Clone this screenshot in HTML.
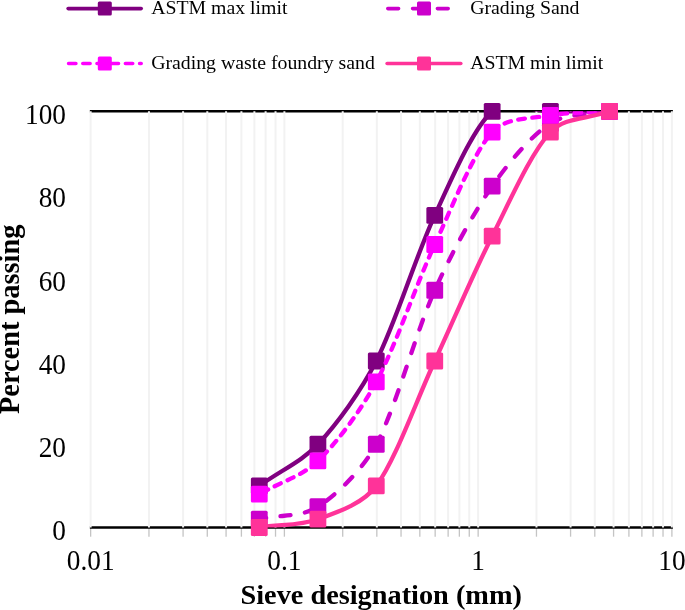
<!DOCTYPE html>
<html><head><meta charset="utf-8"><style>
html,body{margin:0;padding:0;background:#fff;overflow:hidden;}
svg{will-change:transform;display:block;font-family:"Liberation Serif",serif;}
</style></head><body>
<svg width="685" height="610" viewBox="0 0 685 610">
<rect width="685" height="610" fill="#fff"/>
<line x1="90.64" y1="527.50" x2="90.64" y2="536.70" stroke="#C4C4C4" stroke-width="1.3"/>
<line x1="148.96" y1="527.50" x2="148.96" y2="536.70" stroke="#C4C4C4" stroke-width="1.3"/>
<line x1="183.08" y1="527.50" x2="183.08" y2="536.70" stroke="#C4C4C4" stroke-width="1.3"/>
<line x1="207.29" y1="527.50" x2="207.29" y2="536.70" stroke="#C4C4C4" stroke-width="1.3"/>
<line x1="226.07" y1="527.50" x2="226.07" y2="536.70" stroke="#C4C4C4" stroke-width="1.3"/>
<line x1="241.41" y1="527.50" x2="241.41" y2="536.70" stroke="#C4C4C4" stroke-width="1.3"/>
<line x1="254.38" y1="527.50" x2="254.38" y2="536.70" stroke="#C4C4C4" stroke-width="1.3"/>
<line x1="265.61" y1="527.50" x2="265.61" y2="536.70" stroke="#C4C4C4" stroke-width="1.3"/>
<line x1="275.52" y1="527.50" x2="275.52" y2="536.70" stroke="#C4C4C4" stroke-width="1.3"/>
<line x1="284.39" y1="527.50" x2="284.39" y2="536.70" stroke="#C4C4C4" stroke-width="1.3"/>
<line x1="342.71" y1="527.50" x2="342.71" y2="536.70" stroke="#C4C4C4" stroke-width="1.3"/>
<line x1="376.83" y1="527.50" x2="376.83" y2="536.70" stroke="#C4C4C4" stroke-width="1.3"/>
<line x1="401.04" y1="527.50" x2="401.04" y2="536.70" stroke="#C4C4C4" stroke-width="1.3"/>
<line x1="419.82" y1="527.50" x2="419.82" y2="536.70" stroke="#C4C4C4" stroke-width="1.3"/>
<line x1="435.16" y1="527.50" x2="435.16" y2="536.70" stroke="#C4C4C4" stroke-width="1.3"/>
<line x1="448.13" y1="527.50" x2="448.13" y2="536.70" stroke="#C4C4C4" stroke-width="1.3"/>
<line x1="459.36" y1="527.50" x2="459.36" y2="536.70" stroke="#C4C4C4" stroke-width="1.3"/>
<line x1="469.27" y1="527.50" x2="469.27" y2="536.70" stroke="#C4C4C4" stroke-width="1.3"/>
<line x1="478.14" y1="527.50" x2="478.14" y2="536.70" stroke="#C4C4C4" stroke-width="1.3"/>
<line x1="536.46" y1="527.50" x2="536.46" y2="536.70" stroke="#C4C4C4" stroke-width="1.3"/>
<line x1="570.58" y1="527.50" x2="570.58" y2="536.70" stroke="#C4C4C4" stroke-width="1.3"/>
<line x1="594.79" y1="527.50" x2="594.79" y2="536.70" stroke="#C4C4C4" stroke-width="1.3"/>
<line x1="613.57" y1="527.50" x2="613.57" y2="536.70" stroke="#C4C4C4" stroke-width="1.3"/>
<line x1="628.91" y1="527.50" x2="628.91" y2="536.70" stroke="#C4C4C4" stroke-width="1.3"/>
<line x1="641.88" y1="527.50" x2="641.88" y2="536.70" stroke="#C4C4C4" stroke-width="1.3"/>
<line x1="653.11" y1="527.50" x2="653.11" y2="536.70" stroke="#C4C4C4" stroke-width="1.3"/>
<line x1="663.02" y1="527.50" x2="663.02" y2="536.70" stroke="#C4C4C4" stroke-width="1.3"/>
<line x1="671.89" y1="527.50" x2="671.89" y2="536.70" stroke="#C4C4C4" stroke-width="1.3"/>
<line x1="89.84" y1="111.30" x2="672.89" y2="111.30" stroke="#000" stroke-width="2.5"/>
<line x1="89.84" y1="527.50" x2="672.89" y2="527.50" stroke="#000" stroke-width="2.5"/>
<line x1="90.64" y1="111.30" x2="90.64" y2="527.50" stroke="#F2F2F2" stroke-width="2"/>
<line x1="148.96" y1="111.30" x2="148.96" y2="527.50" stroke="#F2F2F2" stroke-width="2"/>
<line x1="183.08" y1="111.30" x2="183.08" y2="527.50" stroke="#F2F2F2" stroke-width="2"/>
<line x1="207.29" y1="111.30" x2="207.29" y2="527.50" stroke="#F2F2F2" stroke-width="2"/>
<line x1="226.07" y1="111.30" x2="226.07" y2="527.50" stroke="#F2F2F2" stroke-width="2"/>
<line x1="241.41" y1="111.30" x2="241.41" y2="527.50" stroke="#F2F2F2" stroke-width="2"/>
<line x1="254.38" y1="111.30" x2="254.38" y2="527.50" stroke="#F2F2F2" stroke-width="2"/>
<line x1="265.61" y1="111.30" x2="265.61" y2="527.50" stroke="#F2F2F2" stroke-width="2"/>
<line x1="275.52" y1="111.30" x2="275.52" y2="527.50" stroke="#F2F2F2" stroke-width="2"/>
<line x1="284.39" y1="111.30" x2="284.39" y2="527.50" stroke="#F2F2F2" stroke-width="2"/>
<line x1="342.71" y1="111.30" x2="342.71" y2="527.50" stroke="#F2F2F2" stroke-width="2"/>
<line x1="376.83" y1="111.30" x2="376.83" y2="527.50" stroke="#F2F2F2" stroke-width="2"/>
<line x1="401.04" y1="111.30" x2="401.04" y2="527.50" stroke="#F2F2F2" stroke-width="2"/>
<line x1="419.82" y1="111.30" x2="419.82" y2="527.50" stroke="#F2F2F2" stroke-width="2"/>
<line x1="435.16" y1="111.30" x2="435.16" y2="527.50" stroke="#F2F2F2" stroke-width="2"/>
<line x1="448.13" y1="111.30" x2="448.13" y2="527.50" stroke="#F2F2F2" stroke-width="2"/>
<line x1="459.36" y1="111.30" x2="459.36" y2="527.50" stroke="#F2F2F2" stroke-width="2"/>
<line x1="469.27" y1="111.30" x2="469.27" y2="527.50" stroke="#F2F2F2" stroke-width="2"/>
<line x1="478.14" y1="111.30" x2="478.14" y2="527.50" stroke="#F2F2F2" stroke-width="2"/>
<line x1="536.46" y1="111.30" x2="536.46" y2="527.50" stroke="#F2F2F2" stroke-width="2"/>
<line x1="570.58" y1="111.30" x2="570.58" y2="527.50" stroke="#F2F2F2" stroke-width="2"/>
<line x1="594.79" y1="111.30" x2="594.79" y2="527.50" stroke="#F2F2F2" stroke-width="2"/>
<line x1="613.57" y1="111.30" x2="613.57" y2="527.50" stroke="#F2F2F2" stroke-width="2"/>
<line x1="628.91" y1="111.30" x2="628.91" y2="527.50" stroke="#F2F2F2" stroke-width="2"/>
<line x1="641.88" y1="111.30" x2="641.88" y2="527.50" stroke="#F2F2F2" stroke-width="2"/>
<line x1="653.11" y1="111.30" x2="653.11" y2="527.50" stroke="#F2F2F2" stroke-width="2"/>
<line x1="663.02" y1="111.30" x2="663.02" y2="527.50" stroke="#F2F2F2" stroke-width="2"/>
<line x1="671.89" y1="111.30" x2="671.89" y2="527.50" stroke="#F2F2F2" stroke-width="2"/>
<defs><clipPath id="pa"><rect x="90.64" y="111.30" width="581.25" height="416.20"/></clipPath></defs>
<path d="M259.28,485.88 C282.73,469.23 301.52,461.75 317.91,444.26 C337.41,423.45 360.87,391.20 376.28,361.02 C395.76,322.87 415.44,256.97 434.76,215.35 C451.43,179.42 472.89,128.64 492.17,111.30 C506.59,98.32 530.98,111.30 550.39,111.30 C569.96,111.30 585.89,111.30 609.55,111.30" fill="none" stroke="#800080" stroke-width="4.3" stroke-linecap="round" stroke-linejoin="round" clip-path="url(#pa)"/>
<rect x="250.88" y="477.48" width="16.80" height="16.80" rx="1.5" fill="#800080"/>
<rect x="309.51" y="435.86" width="16.80" height="16.80" rx="1.5" fill="#800080"/>
<rect x="367.88" y="352.62" width="16.80" height="16.80" rx="1.5" fill="#800080"/>
<rect x="426.36" y="206.95" width="16.80" height="16.80" rx="1.5" fill="#800080"/>
<rect x="483.77" y="102.90" width="16.80" height="16.80" rx="1.5" fill="#800080"/>
<rect x="541.99" y="102.90" width="16.80" height="16.80" rx="1.5" fill="#800080"/>
<rect x="601.15" y="102.90" width="16.80" height="16.80" rx="1.5" fill="#800080"/>
<path d="M259.28,519.18 C282.73,514.18 301.08,517.46 317.91,506.69 C337.41,494.20 362.75,469.33 376.28,444.26 C395.76,408.19 415.44,333.27 434.76,290.27 C450.99,254.13 472.89,214.03 492.17,186.22 C508.43,162.74 530.83,135.86 550.39,123.37 C567.36,112.54 585.89,116.13 609.55,111.30" fill="none" stroke="#CC00CC" stroke-width="4.3" stroke-linecap="round" stroke-linejoin="round" stroke-dasharray="10.2 14.6" stroke-dashoffset="3.5" clip-path="url(#pa)"/>
<rect x="250.88" y="510.78" width="16.80" height="16.80" rx="1.5" fill="#CC00CC"/>
<rect x="309.51" y="498.29" width="16.80" height="16.80" rx="1.5" fill="#CC00CC"/>
<rect x="367.88" y="435.86" width="16.80" height="16.80" rx="1.5" fill="#CC00CC"/>
<rect x="426.36" y="281.87" width="16.80" height="16.80" rx="1.5" fill="#CC00CC"/>
<rect x="483.77" y="177.82" width="16.80" height="16.80" rx="1.5" fill="#CC00CC"/>
<rect x="541.99" y="114.97" width="16.80" height="16.80" rx="1.5" fill="#CC00CC"/>
<rect x="601.15" y="102.90" width="16.80" height="16.80" rx="1.5" fill="#CC00CC"/>
<path d="M259.28,494.20 C282.73,480.89 301.70,476.48 317.91,460.91 C337.41,442.18 360.72,410.66 376.28,381.83 C395.76,345.76 415.44,286.10 434.76,244.48 C452.46,206.33 472.89,153.61 492.17,132.11 C505.64,117.08 530.83,118.93 550.39,115.46 C569.86,112.01 585.89,112.96 609.55,111.30" fill="none" stroke="#FF00FF" stroke-width="4.3" stroke-linecap="round" stroke-linejoin="round" stroke-dasharray="6.7 7.5" stroke-dashoffset="-3" clip-path="url(#pa)"/>
<rect x="250.88" y="485.80" width="16.80" height="16.80" rx="1.5" fill="#FF00FF"/>
<rect x="309.51" y="452.51" width="16.80" height="16.80" rx="1.5" fill="#FF00FF"/>
<rect x="367.88" y="373.43" width="16.80" height="16.80" rx="1.5" fill="#FF00FF"/>
<rect x="426.36" y="236.08" width="16.80" height="16.80" rx="1.5" fill="#FF00FF"/>
<rect x="483.77" y="123.71" width="16.80" height="16.80" rx="1.5" fill="#FF00FF"/>
<rect x="541.99" y="107.06" width="16.80" height="16.80" rx="1.5" fill="#FF00FF"/>
<rect x="601.15" y="102.90" width="16.80" height="16.80" rx="1.5" fill="#FF00FF"/>
<path d="M259.28,527.50 C282.73,524.17 299.31,525.79 317.91,519.18 C337.41,512.24 362.97,503.90 376.28,485.88 C395.76,459.52 415.44,402.64 434.76,361.02 C454.04,319.47 472.89,274.31 492.17,236.16 C510.09,200.69 530.83,152.92 550.39,132.11 C564.71,116.88 585.89,119.62 609.55,111.30" fill="none" stroke="#FF3399" stroke-width="4.3" stroke-linecap="round" stroke-linejoin="round" clip-path="url(#pa)"/>
<rect x="250.88" y="519.10" width="16.80" height="16.80" rx="1.5" fill="#FF3399"/>
<rect x="309.51" y="510.78" width="16.80" height="16.80" rx="1.5" fill="#FF3399"/>
<rect x="367.88" y="477.48" width="16.80" height="16.80" rx="1.5" fill="#FF3399"/>
<rect x="426.36" y="352.62" width="16.80" height="16.80" rx="1.5" fill="#FF3399"/>
<rect x="483.77" y="227.76" width="16.80" height="16.80" rx="1.5" fill="#FF3399"/>
<rect x="541.99" y="123.71" width="16.80" height="16.80" rx="1.5" fill="#FF3399"/>
<rect x="601.15" y="102.90" width="16.80" height="16.80" rx="1.5" fill="#FF3399"/>
<line x1="68.10" y1="8.60" x2="141.20" y2="8.60" stroke="#800080" stroke-width="3.6" stroke-linecap="round"/>
<rect x="97.80" y="1.60" width="14" height="14" rx="1.5" fill="#800080"/>
<text x="151.20" y="14.10" font-size="19.8">ASTM max limit</text>
<line x1="387.80" y1="8.60" x2="450.20" y2="8.60" stroke="#CC00CC" stroke-width="3.6" stroke-linecap="round" stroke-dasharray="10.8 14.0"/>
<rect x="417.00" y="1.60" width="14" height="14" rx="1.5" fill="#CC00CC"/>
<text x="470.20" y="14.10" font-size="19.8">Grading Sand</text>
<line x1="68.60" y1="63.50" x2="141.20" y2="63.50" stroke="#FF00FF" stroke-width="3.6" stroke-linecap="round" stroke-dasharray="7.3 6.9"/>
<rect x="97.80" y="56.50" width="14" height="14" rx="1.5" fill="#FF00FF"/>
<text x="151.20" y="69.00" font-size="19.8">Grading waste foundry sand</text>
<line x1="387.10" y1="63.50" x2="460.80" y2="63.50" stroke="#FF3399" stroke-width="3.6" stroke-linecap="round"/>
<rect x="417.00" y="56.50" width="14" height="14" rx="1.5" fill="#FF3399"/>
<text x="470.20" y="69.00" font-size="19.8">ASTM min limit</text>
<text transform="translate(66,540.40) scale(0.975,1.055)" font-size="28" text-anchor="end">0</text>
<text transform="translate(66,457.16) scale(0.975,1.055)" font-size="28" text-anchor="end">20</text>
<text transform="translate(66,373.92) scale(0.975,1.055)" font-size="28" text-anchor="end">40</text>
<text transform="translate(66,290.68) scale(0.975,1.055)" font-size="28" text-anchor="end">60</text>
<text transform="translate(66,207.44) scale(0.975,1.055)" font-size="28" text-anchor="end">80</text>
<text transform="translate(66,124.20) scale(0.975,1.055)" font-size="28" text-anchor="end">100</text>
<text transform="translate(90.64,570.2) scale(0.975,1.055)" font-size="28" text-anchor="middle">0.01</text>
<text transform="translate(284.39,570.2) scale(0.975,1.055)" font-size="28" text-anchor="middle">0.1</text>
<text transform="translate(478.14,570.2) scale(0.975,1.055)" font-size="28" text-anchor="middle">1</text>
<text transform="translate(671.89,570.2) scale(0.975,1.055)" font-size="28" text-anchor="middle">10</text>
<text x="381.2" y="604.2" font-size="28.3" font-weight="bold" text-anchor="middle">Sieve designation (mm)</text>
<text transform="translate(19.4,319.3) rotate(-90)" font-weight="bold" font-size="28.4" text-anchor="middle">Percent passing</text>
</svg>
</body></html>
